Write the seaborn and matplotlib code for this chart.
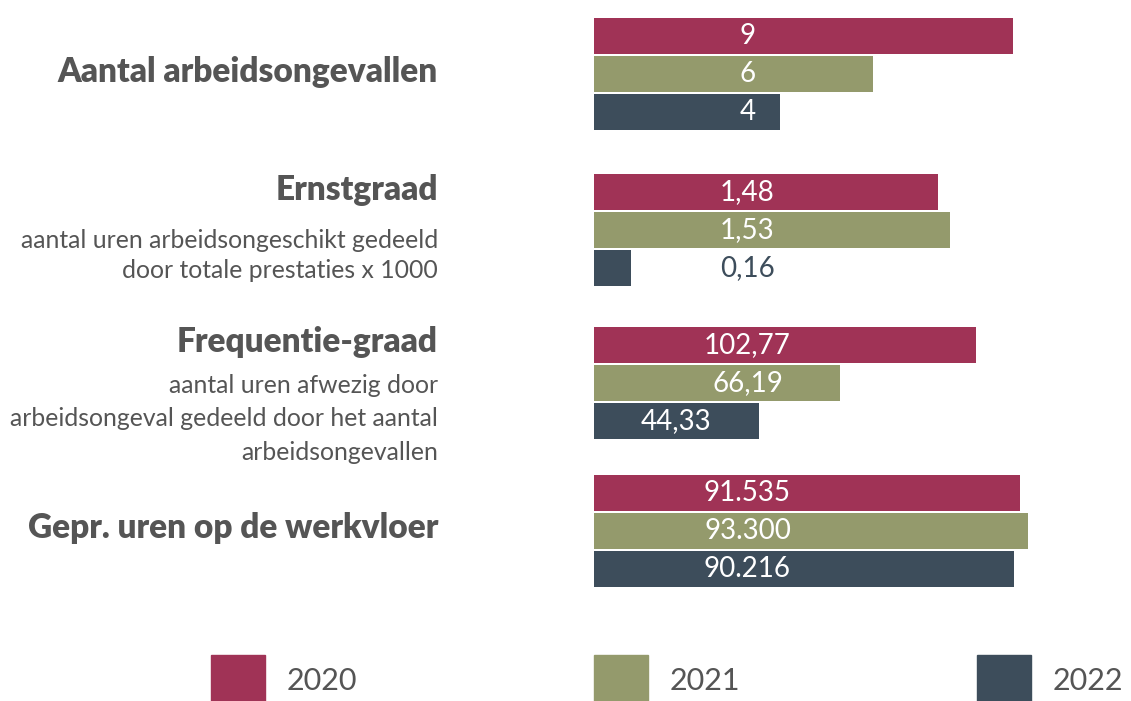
import matplotlib
matplotlib.use('Agg')
from matplotlib import pyplot as plt
from matplotlib.patches import Rectangle
import seaborn as sns

YEARS = ['2020', '2021', '2022']
COLORS = ['#A03356', '#949A6C', '#3D4D5B']
TEXT_GREY = '#555555'

TITLES = [
    'Aantal arbeidsongevallen',
    'Ernstgraad',
    'Frequentie-graad',
    'Gepr. uren op de werkvloer',
]
SUBTITLES = [
    [],
    ['aantal uren arbeidsongeschikt gedeeld', 'door totale prestaties x 1000'],
    ['aantal uren afwezig door', 'arbeidsongeval gedeeld door het aantal',
     'arbeidsongevallen'],
    [],
]
ongevallen = [9, 6, 4]
ernstgraad = [1.48, 1.53, 0.16]
frequentie = [102.77, 66.19, 44.33]
uren = [91535, 93300, 90216]
LABELS = [
    ['9', '6', '4'],
    ['1,48', '1,53', '0,16'],
    ['102,77', '66,19', '44,33'],
    ['91.535', '93.300', '90.216'],
]
AXIS_MAX = [10, 2, 125, 100000]


def main():
    sns.set_theme(style='white')
    plt.rcParams['font.family'] = ['Lato', 'DejaVu Sans']
    W, H = 1131, 701
    fig = plt.figure(figsize=(W / 100, H / 100), dpi=100)

    groups = [ongevallen, ernstgraad, frequentie, uren]
    tops = [17, 173, 326, 474]
    title_y = [72, 190, 342, 528]
    sub_lines_y = [[], [240, 270], [385, 418, 452], []]
    ax_left, ax_w, ax_h = 594, 465, 114

    axes = []
    for i, vals in enumerate(groups):
        ax = fig.add_axes([ax_left / W, 1 - (tops[i] + ax_h) / H, ax_w / W, ax_h / H])
        sns.barplot(x=vals, y=YEARS, hue=YEARS, palette=COLORS, saturation=1,
                    width=0.97, legend=False, linewidth=0, ax=ax)
        ax.set_xlim(0, AXIS_MAX[i])
        ax.set_ylim(2.5, -0.5)
        ax.axis('off')
        axes.append(ax)

        fig.text(438 / W, 1 - title_y[i] / H, TITLES[i], ha='right', va='center',
                 fontsize=24, fontweight='heavy', color=TEXT_GREY)
        for line, ly in zip(SUBTITLES[i], sub_lines_y[i]):
            fig.text(438 / W, 1 - ly / H, line, ha='right', va='center',
                     fontsize=17.8, fontweight='normal', color=TEXT_GREY)

    fig.canvas.draw()
    renderer = fig.canvas.get_renderer()
    for i, (ax, vals) in enumerate(zip(axes, groups)):
        amax = AXIS_MAX[i]
        for j, v in enumerate(vals):
            t = ax.text(0.33 * amax, j, LABELS[i][j], ha='center', va='center',
                        fontsize=20, fontweight='normal', color='white')
            bb = t.get_window_extent(renderer)
            inv = ax.transData.inverted()
            left = inv.transform((bb.x0, bb.y0))[0]
            right = inv.transform((bb.x1, bb.y0))[0]
            if right > v:
                if right - left < v * 0.95:
                    t.set_x(v / 2)
                else:
                    t.set_color(COLORS[j])

    # legend
    legend_x = [211, 594, 977]
    for k, year in enumerate(YEARS):
        fig.patches.append(Rectangle((legend_x[k] / W, 0), 54 / W, (H - 655) / H,
                                     transform=fig.transFigure, color=COLORS[k]))
        fig.text((legend_x[k] + 76) / W, 1 - 681 / H, year, ha='left', va='center',
                 fontsize=22, fontweight='normal', color=TEXT_GREY)

    fig.savefig('out.png', dpi=100, facecolor='white')


if __name__ == '__main__':
    main()
